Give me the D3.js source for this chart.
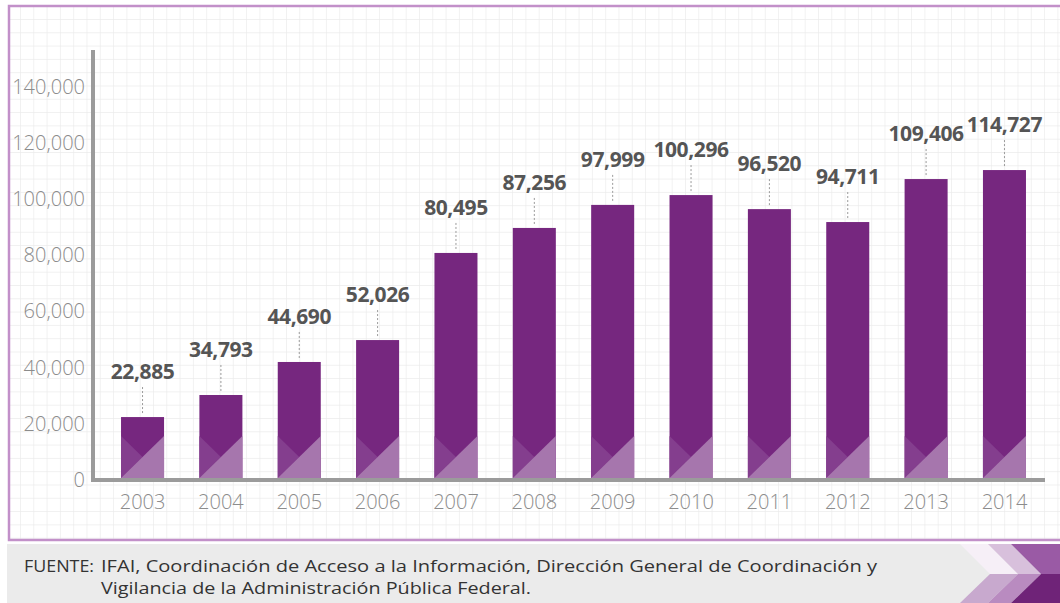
<!DOCTYPE html>
<meta charset="utf-8">
<script src="https://d3js.org/d3.v7.min.js"></script>
<style>
   body {
      margin: 0;
      padding: 0;
      background-color: white;
   }
</style>

<body>
   <svg id="chart" width="1060" height="603"></svg>
   <script>

      // years on the x axis
      var years = ["2003", "2004", "2005", "2006", "2007", "2008", "2009", "2010", "2011", "2012", "2013", "2014"];
      // heights of the bars as drawn in the picture
      var barHeights = [22400, 30250, 42000, 49800, 80800, 89700, 97900, 101400, 96400, 91800, 107100, 110300];
      // numbers printed above the bars
      var reported = [22885, 34793, 44690, 52026, 80495, 87256, 97999, 100296, 96520, 94711, 109406, 114727];
      var yTicks = [0, 20000, 40000, 60000, 80000, 100000, 120000, 140000];
      var sourceLines = ["IFAI, Coordinación de Acceso a la Información, Dirección General de Coordinación y",
         "Vigilancia de la Administración Pública Federal."];

      var svg = d3.select("#chart"),
         width = +svg.attr("width"),
         height = +svg.attr("height");

      var fmt = d3.format(",");

      // background grid pattern
      var defs = svg.append("defs");
      var pat = defs.append("pattern")
         .attr("id", "grid")
         .attr("patternUnits", "userSpaceOnUse")
         .attr("x", 20).attr("y", 19)
         .attr("width", 13.3).attr("height", 13.3);
      pat.append("rect").attr("width", 13.3).attr("height", 13.3).attr("fill", "white");
      pat.append("path")
         .attr("d", "M0,0H13.3M0,0V13.3")
         .attr("stroke", "#ebebeb")
         .attr("stroke-width", 1.3)
         .attr("fill", "none");

      // frame
      svg.append("rect")
         .attr("x", 9).attr("y", 6)
         .attr("width", width + 20).attr("height", 534)
         .attr("fill", "url(#grid)")
         .attr("stroke", "#c290c9")
         .attr("stroke-width", 2.5);

      // scales
      var x = d3.scaleBand()
         .domain(years)
         .range([103.4, 1043.6])
         .paddingInner(0.451)
         .paddingOuter(0.225);

      var y = d3.scaleLinear()
         .domain([0, 140000])
         .range([480, 86.6]);

      // y axis labels
      var yAxis = svg.append("g")
         .attr("transform", "translate(93,0)")
         .call(d3.axisLeft(y).tickValues(yTicks).tickFormat(fmt).tickSize(0).tickPadding(8));
      yAxis.select(".domain").remove();
      yAxis.selectAll("text")
         .attr("fill", "#8c8c8c")
         .style("font-family", "'Open Sans', sans-serif")
         .style("font-weight", 300)
         .style("font-size", "20px");

      // bars
      var bars = svg.append("g")
         .selectAll("g")
         .data(years)
         .enter()
         .append("g");

      bars.append("rect")
         .attr("x", function (d) { return x(d) })
         .attr("y", function (d, i) { return y(barHeights[i]) })
         .attr("width", x.bandwidth())
         .attr("height", function (d, i) { return y(0) - y(barHeights[i]) })
         .attr("fill", "#76277f");

      var bw = x.bandwidth(),
         decoH = 42,
         base = y(0) - 2;

      // medium triangle on the left
      bars.append("path")
         .attr("d", function (d) {
            var x0 = x(d);
            return "M" + x0 + "," + (base - decoH) + "L" + (x0 + bw / 2) + "," + (base - decoH / 2) + "L" + x0 + "," + base + "Z";
         })
         .attr("fill", "#843e8e");

      // light triangle bottom right
      bars.append("path")
         .attr("d", function (d) {
            var x0 = x(d);
            return "M" + x0 + "," + base + "L" + (x0 + bw) + "," + (base - decoH) + "L" + (x0 + bw) + "," + base + "Z";
         })
         .attr("fill", "#a676ad");

      // dotted leader lines
      var labelGap = 38;
      bars.append("line")
         .attr("x1", function (d) { return x(d) + bw / 2 })
         .attr("x2", function (d) { return x(d) + bw / 2 })
         .attr("y1", function (d, i) { return y(barHeights[i]) - labelGap + 8 })
         .attr("y2", function (d, i) { return y(barHeights[i]) - 3 })
         .attr("stroke", "#9a9a9a")
         .attr("stroke-width", 1)
         .attr("stroke-dasharray", "2,2");

      // value labels
      bars.append("text")
         .attr("x", function (d) { return x(d) + bw / 2 })
         .attr("y", function (d, i) { return y(barHeights[i]) - labelGap })
         .attr("text-anchor", "middle")
         .attr("fill", "#555555")
         .style("font-family", "'Open Sans', sans-serif")
         .style("font-weight", 700)
         .style("font-size", "21px")
         .style("letter-spacing", "-0.4px")
         .text(function (d, i) { return fmt(reported[i]) });

      // x axis
      var xAxis = svg.append("g")
         .attr("transform", "translate(0,480)")
         .call(d3.axisBottom(x).tickSize(0).tickPadding(15));
      xAxis.select(".domain").remove();
      xAxis.selectAll("text")
         .attr("fill", "#8c8c8c")
         .style("font-family", "'Open Sans', sans-serif")
         .style("font-weight", 300)
         .style("font-size", "20px");

      // axis lines
      svg.append("line")
         .attr("x1", 93).attr("x2", 93)
         .attr("y1", 50).attr("y2", 482)
         .attr("stroke", "#9b9b9b")
         .attr("stroke-width", 4);
      svg.append("line")
         .attr("x1", 91).attr("x2", 1045)
         .attr("y1", 480).attr("y2", 480)
         .attr("stroke", "#9b9b9b")
         .attr("stroke-width", 4);

      // footer
      var foot = svg.append("g");
      foot.append("rect")
         .attr("x", 7).attr("y", 544)
         .attr("width", width).attr("height", height - 544)
         .attr("fill", "#ebebeb");

      // chevron decoration bottom right
      var chev = [
         { x0: 960, w: 28, top: "#f6eff7", bottom: "#c8a9ce" },
         { x0: 988, w: 23, top: "#d8c0dc", bottom: "#b98bc0" },
         { x0: 1011, w: 80, top: "#9a5aa5", bottom: "#6f2378" }
      ];
      var cTop = 544, cMid = 574, cBot = 603, d = cMid - cTop;
      chev.forEach(function (c) {
         foot.append("path")
            .attr("d", "M" + c.x0 + "," + cTop + "L" + (c.x0 + c.w) + "," + cTop + "L" + (c.x0 + c.w + d) + "," + cMid +
               "L" + (c.x0 + d) + "," + cMid + "Z")
            .attr("fill", c.top);
         foot.append("path")
            .attr("d", "M" + (c.x0 + d) + "," + cMid + "L" + (c.x0 + c.w + d) + "," + cMid + "L" + (c.x0 + c.w) + "," + cBot +
               "L" + c.x0 + "," + cBot + "Z")
            .attr("fill", c.bottom);
      });

      var ft = foot.append("g")
         .style("font-family", "'Open Sans', sans-serif")
         .style("font-size", "16px")
         .attr("fill", "#333");
      ft.append("text").attr("x", 24).attr("y", 572)
         .attr("textLength", 70).attr("lengthAdjust", "spacingAndGlyphs").text("FUENTE:");
      ft.append("text").attr("x", 101).attr("y", 572)
         .attr("textLength", 776).attr("lengthAdjust", "spacingAndGlyphs").text(sourceLines[0]);
      ft.append("text").attr("x", 101).attr("y", 594)
         .attr("textLength", 430).attr("lengthAdjust", "spacingAndGlyphs").text(sourceLines[1]);

   </script>
</body>
